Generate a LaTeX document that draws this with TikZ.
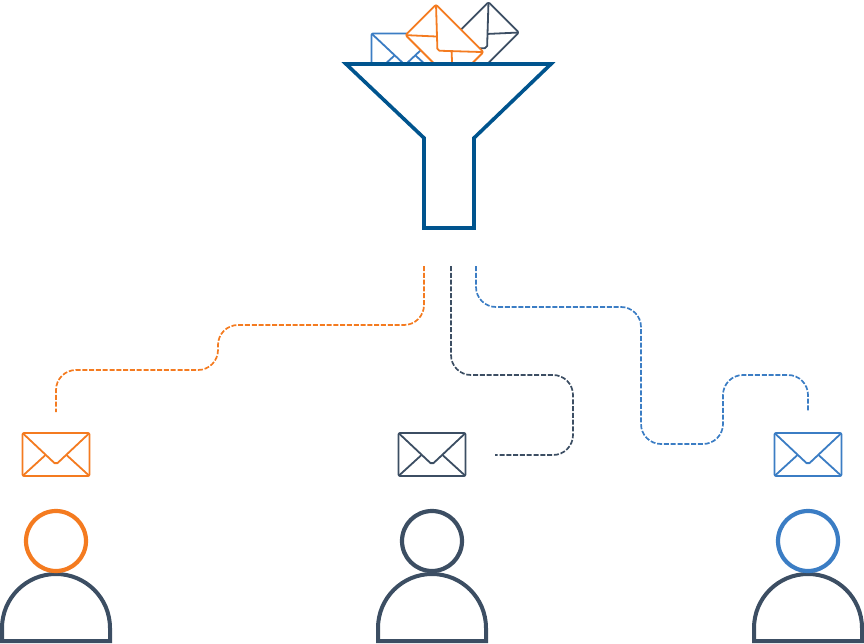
\documentclass[tikz,border=0pt]{standalone}

\definecolor{funnelblue}{HTML}{00548E}
\definecolor{mailorange}{HTML}{F47B20}
\definecolor{mailblue}{HTML}{3B7DC4}
\definecolor{maildark}{HTML}{3C4E63}

\tikzset{
    route/.style={line width=1.7pt, dash pattern=on 5pt off 1.8pt, rounded corners=20pt},
    pics/mail/.style={code={
        \draw[#1, line width=1.8pt, fill=white, rounded corners=1.5pt] (-33.5,-21.5) rectangle (33.5,21.5);
        \draw[#1, line width=1.8pt, rounded corners=2pt] (-33.5,-21.5) -- (0,10) -- (33.5,-21.5);
        \draw[#1, line width=1.8pt] (-33.5,21.5) -- (-10.5,0.5);
        \draw[#1, line width=1.8pt] (33.5,21.5) -- (10.5,0.5);
    }},
    pics/person/.style={code={
        \draw[maildark, line width=4pt, line join=miter] (-54,100) -- (-54,87) arc (180:360:54) -- (54,100) -- cycle; % shoulders
        \draw[#1, line width=4.2pt, fill=white] (0,0) circle (30); % head
    }},
}

\begin{document}
\begin{tikzpicture}[x=1pt, y=-1pt, line join=round]

    \useasboundingbox (0,0) rectangle (864,644);

    % Mails going into the funnel
    \pic (topblue) at (405,55) {mail=mailblue};
    \pic[rotate=45] (topdark) at (480,41) {mail=maildark};
    \pic[rotate=-45] (toporange) at (444.5,43.6) {mail=mailorange};

    % Funnel
    \draw[funnelblue, line width=3.6pt, fill=white, line join=miter]
        (346,64) -- (551,64) -- (474,138) -- (474,228) -- (424,228) -- (424,138) -- cycle;

    % Mail and person below
    \foreach \name/\x/\col in {left/56/mailorange, middle/432/maildark, right/808/mailblue} {
        \pic (mail\name) at (\x,454.5) {mail=\col};
        \pic (person\name) at (\x,541) {person=\col};
    }

    % Ends of the routes
    \coordinate (startorange) at (424,266);
    \coordinate (startdark) at (451,266);
    \coordinate (startblue) at (476,266);
    \coordinate (endorange) at (56,412);
    \coordinate (enddark) at (495,455);
    \coordinate (endblue) at (808,411);

    % Routes
    \draw[route, mailorange] (startorange) -- (424,325) -- (218,325) -- (218,370) -- (56,370) -- (endorange);
    \draw[route, maildark] (startdark) -- (451,375) -- (573,375) -- (573,455) -- (enddark);
    \draw[route, mailblue] (startblue) -- (476,307) -- (641,307) -- (641,444) -- (723,444) -- (723,375) -- (808,375) -- (endblue);

\end{tikzpicture}
\end{document}
